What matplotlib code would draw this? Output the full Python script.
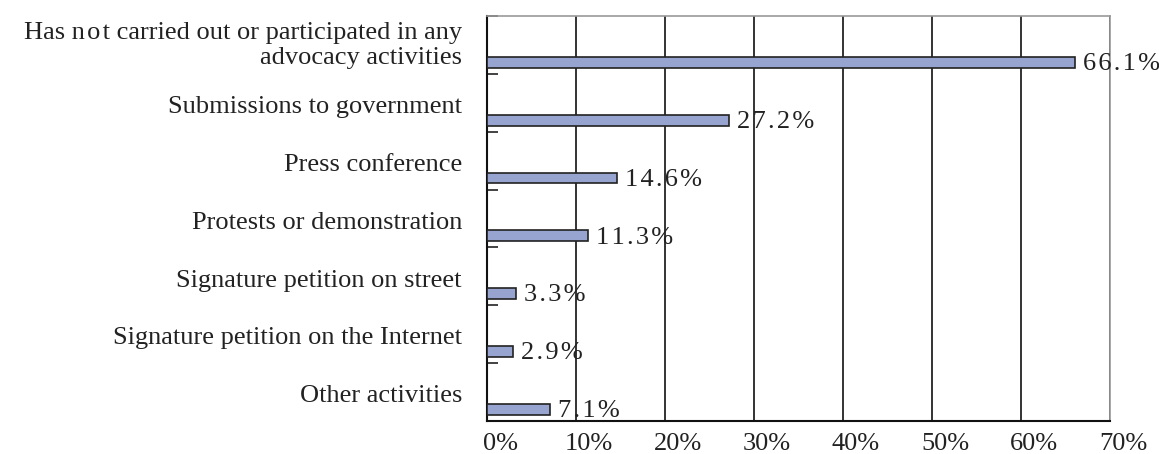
import matplotlib
matplotlib.use("Agg")
import matplotlib.pyplot as plt
import matplotlib.transforms as mtransforms
from matplotlib.ticker import FixedLocator, FuncFormatter

categories = [
    "Has n\u200ao\u200at carried out or participated in any\nadvocacy activities",
    "Submissions to government",
    "Press conference",
    "Protests or demonstration",
    "Signature petition on street",
    "Signature petition on the Internet",
    "Other activities",
]
values = [66.1, 27.2, 14.6, 11.3, 3.3, 2.9, 7.1]
xticks = [0, 10, 20, 30, 40, 50, 60, 70]

plt.rcParams['font.family'] = ['Liberation Serif', 'DejaVu Serif']

fig = plt.figure(figsize=(11.59, 4.54), dpi=100)
ax = fig.add_axes([487/1159, 1 - 421/454, (1110-487)/1159, (421-16)/454])

n = len(categories)
pos = [i + 0.8 for i in range(n)]
ax.barh(pos, values, height=0.19, color='#98A4D0', edgecolor='#222222', linewidth=1.2, zorder=3)
hs = "\u200a"
for p, v in zip(pos, values):
    lab = hs.join(f"{v:.1f}%")
    ax.text(v + 0.9, p + 0.03, lab, va='center', ha='left', fontsize=19, color='#222222', zorder=4)

ax.set_xlim(0, 70)
ax.set_ylim(n, 0)
ax.xaxis.set_major_locator(FixedLocator(xticks))
ax.xaxis.set_major_formatter(FuncFormatter(lambda x, p: f"{int(x)}%"))
ax.tick_params(axis='x', length=0, labelsize=19, pad=9, colors='#222222')
offset = mtransforms.ScaledTranslation(13/100, 0, fig.dpi_scale_trans)
for lbl in ax.get_xticklabels():
    lbl.set_transform(lbl.get_transform() + offset)
ax.grid(axis='x', color='#111111', linewidth=1.2, zorder=1)

ax.yaxis.set_major_locator(FixedLocator([i + 0.53 for i in range(n)]))
ax.set_yticklabels(categories, fontsize=19, color='#222222', ha='right', linespacing=1.15)
ax.tick_params(axis='y', which='major', length=0, pad=18)
ylbls = ax.get_yticklabels()
up = mtransforms.ScaledTranslation(0, 5/100, fig.dpi_scale_trans)
ylbls[0].set_transform(ylbls[0].get_transform() + up)
ax.yaxis.set_minor_locator(FixedLocator(list(range(n + 1))))
ax.tick_params(axis='y', which='minor', length=8, direction='in', width=1.2, color='#222222')

for s in ['top', 'right']:
    ax.spines[s].set_color('#999999')
    ax.spines[s].set_linewidth(1.2)
for s in ['left', 'bottom']:
    ax.spines[s].set_color('#111111')
    ax.spines[s].set_linewidth(1.5)
ax.set_axisbelow(True)

fig.savefig("out.png", dpi=100)
